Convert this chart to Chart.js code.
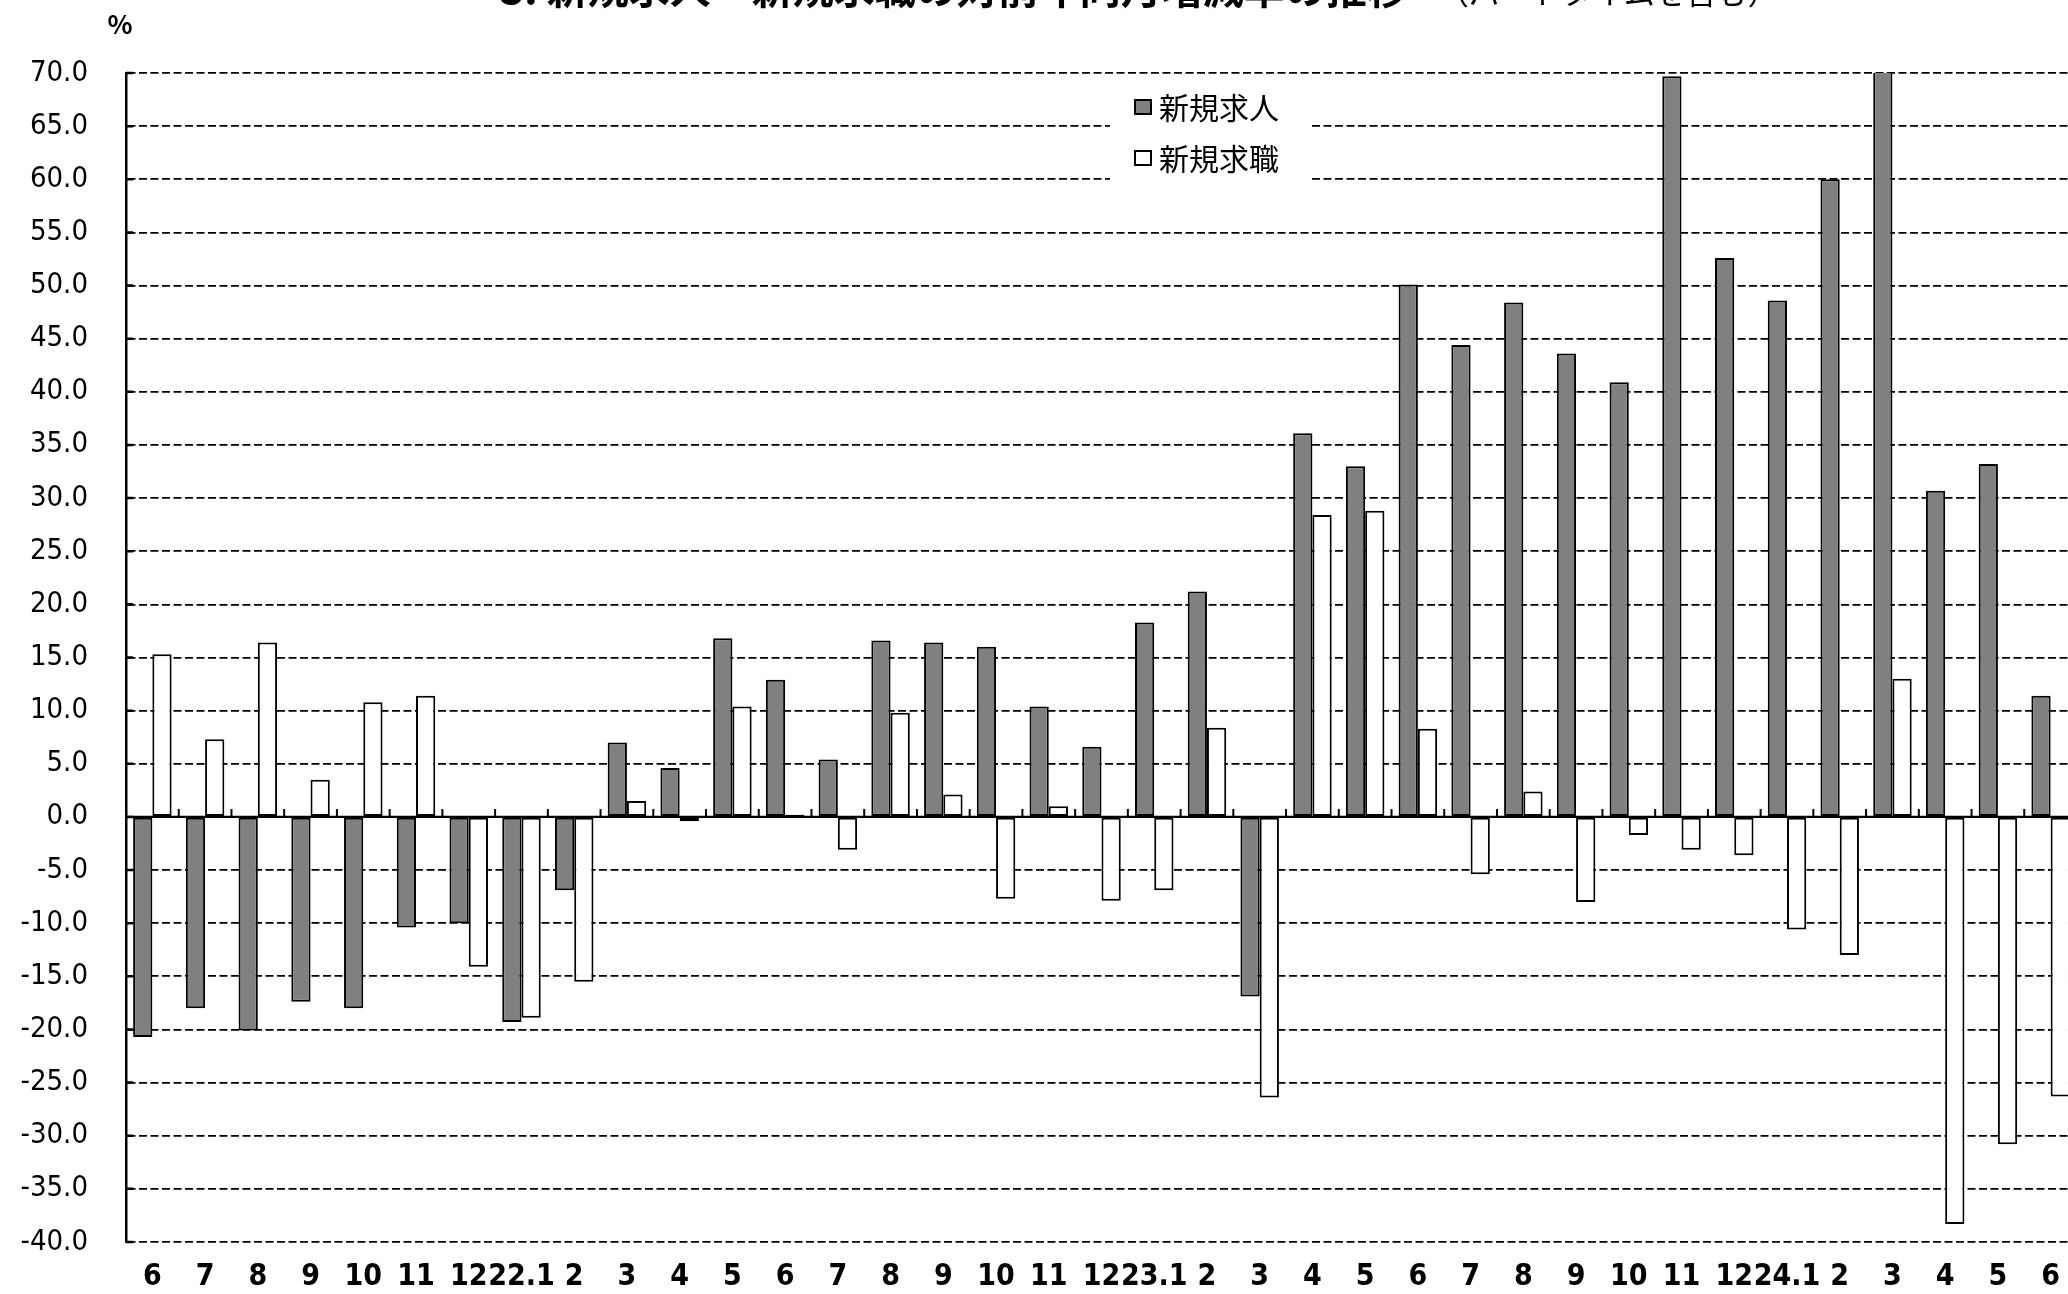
<!DOCTYPE html>
<html>
<head>
<meta charset="utf-8">
<script src="https://cdn.jsdelivr.net/npm/chart.js@4.4.1/dist/chart.umd.min.js"></script>
<style>
  html, body { margin: 0; padding: 0; background: #fff; overflow: hidden; }
  #wrap { position: relative; width: 2090px; height: 1318px; }
</style>
</head>
<body>
<div id="wrap"><canvas id="chart"></canvas></div>
<script>
// month labels, 2021.6 - 2024.6
const MONTHS = ['6', '7', '8', '9', '10', '11', '12',
    '22.1', '2', '3', '4', '5', '6', '7', '8', '9', '10', '11', '12',
    '23.1', '2', '3', '4', '5', '6', '7', '8', '9', '10', '11', '12',
    '24.1', '2', '3', '4', '5', '6'];

// 新規求人 (year-on-year %)
const NEW_OPENINGS = [-20.7, -18.0, -20.1, -17.4, -18.0, -10.4, -10.0,
    -19.3, -6.9, 7.0, 4.6, 16.8, 12.9, 5.4, 16.6, 16.4, 16.0, 10.4, 6.6,
    18.3, 21.2, -16.9, 36.1, 33.0, 50.1, 44.4, 48.4, 43.6, 40.9, 69.7, 52.6,
    48.6, 60.0, 75.0, 30.7, 33.2, 11.4];

// 新規求職 (year-on-year %)
const NEW_SEEKERS = [15.3, 7.3, 16.4, 3.5, 10.8, 11.4, -14.1,
    -18.9, -15.5, 1.5, -0.4, 10.4, 0.2, -3.1, 9.8, 2.1, -7.7, 1.0, -7.9,
    -6.9, 8.4, -26.4, 28.4, 28.8, 8.3, -5.4, 2.4, -8.0, -1.7, -3.1, -3.6,
    -10.6, -13.0, 13.0, -38.3, -30.8, -26.3];

const SERIES_NAMES = ['新規求人', '新規求職'];
const TITLE_MAIN = '3. 新規求人・新規求職の対前年同月増減率の推移';
const TITLE_SUB = '（パートタイムを含む）';

const Y_MIN = -40, Y_MAX = 70, Y_STEP = 5;

const CJK = '"Noto Sans CJK JP", "Noto Sans", sans-serif';
const NUM = '"DejaVu Sans Condensed", "Liberation Sans Narrow", "Noto Sans CJK JP", sans-serif';

// zero line, inner tick marks, legend box, unit label and title
const decorations = {
    id: 'decorations',
    afterDatasetsDraw(chart) {
        const { ctx, chartArea: a, scales: { x, y } } = chart;
        ctx.save();
        ctx.strokeStyle = '#000';

        const y0 = y.getPixelForValue(0);
        ctx.lineWidth = 2.2;
        ctx.beginPath();
        ctx.moveTo(a.left, y0);
        ctx.lineTo(a.right, y0);
        ctx.stroke();

        // ticks between months, on the zero line
        const half = (x.getPixelForValue(1) - x.getPixelForValue(0)) / 2;
        ctx.lineWidth = 2;
        ctx.beginPath();
        for (let i = 1; i < MONTHS.length; i++) {
            const px = x.getPixelForValue(i) - half;
            ctx.moveTo(px, y0);
            ctx.lineTo(px, y0 - 8);
        }
        ctx.stroke();

        // y ticks pointing inward
        ctx.lineWidth = 2.5;
        ctx.beginPath();
        y.ticks.forEach(t => {
            const py = y.getPixelForValue(t.value);
            ctx.moveTo(a.left, py);
            ctx.lineTo(a.left + 7, py);
        });
        ctx.stroke();

        // legend
        const lx = a.left + 984, ly = a.top + 9;
        ctx.fillStyle = '#fff';
        ctx.fillRect(lx, ly, 200, 108);
        ctx.font = '30px ' + CJK;
        ctx.textBaseline = 'middle';
        ctx.textAlign = 'left';
        chart.data.datasets.forEach((ds, i) => {
            const cy = ly + 25 + i * 51;
            ctx.fillStyle = ds.backgroundColor;
            ctx.fillRect(lx + 25, cy - 7, 16, 14);
            ctx.lineWidth = 2;
            ctx.strokeRect(lx + 25, cy - 7, 16, 14);
            ctx.fillStyle = '#000';
            ctx.fillText(ds.label, lx + 49, cy + 1);
        });

        // unit
        ctx.font = 'bold 26px ' + CJK;
        ctx.textAlign = 'center';
        ctx.fillText('%', a.left - 6, a.top - 49);

        // title, mostly above the visible area
        ctx.textBaseline = 'alphabetic';
        ctx.textAlign = 'left';
        ctx.font = 'bold 41px ' + CJK;
        ctx.fillText(TITLE_MAIN, 500, 4);
        const w = ctx.measureText(TITLE_MAIN).width;
        ctx.font = '31px ' + CJK;
        ctx.fillText(TITLE_SUB, 500 + w + 30, 4);
        ctx.restore();
    }
};

new Chart(document.getElementById('chart'), {
    type: 'bar',
    data: {
        labels: MONTHS,
        datasets: [
            {
                label: SERIES_NAMES[0],
                data: NEW_OPENINGS,
                backgroundColor: '#808080',
                borderColor: '#000',
                borderWidth: 2,
                borderSkipped: false,
                clip: 0
            },
            {
                label: SERIES_NAMES[1],
                data: NEW_SEEKERS,
                backgroundColor: '#ffffff',
                borderColor: '#000',
                borderWidth: 2,
                borderSkipped: false,
                clip: 0
            }
        ]
    },
    options: {
        responsive: true,
        maintainAspectRatio: false,
        animation: false,
        devicePixelRatio: 1,
        layout: { padding: { left: 0, right: 13, top: 73, bottom: 6 } },
        datasets: { bar: { categoryPercentage: 0.73, barPercentage: 1.0 } },
        scales: {
            x: {
                grid: { display: false, drawTicks: false },
                border: { display: false },
                ticks: {
                    autoSkip: false,
                    maxRotation: 0,
                    padding: 17,
                    color: '#000',
                    font: { family: NUM, size: 30, weight: 'bold' }
                }
            },
            y: {
                min: Y_MIN,
                max: Y_MAX,
                afterFit: s => { s.width = 126; },
                grid: { color: '#000', lineWidth: 1.7, drawTicks: false },
                border: { display: true, color: '#000', width: 2.5, dash: [8, 3.5] },
                ticks: {
                    stepSize: Y_STEP,
                    padding: 38,
                    color: '#000',
                    font: { family: NUM, size: 29 },
                    callback: v => v.toFixed(1)
                }
            }
        },
        plugins: {
            legend: { display: false },
            tooltip: { enabled: false },
            title: { display: false }
        }
    },
    plugins: [decorations]
});
</script>
</body>
</html>
